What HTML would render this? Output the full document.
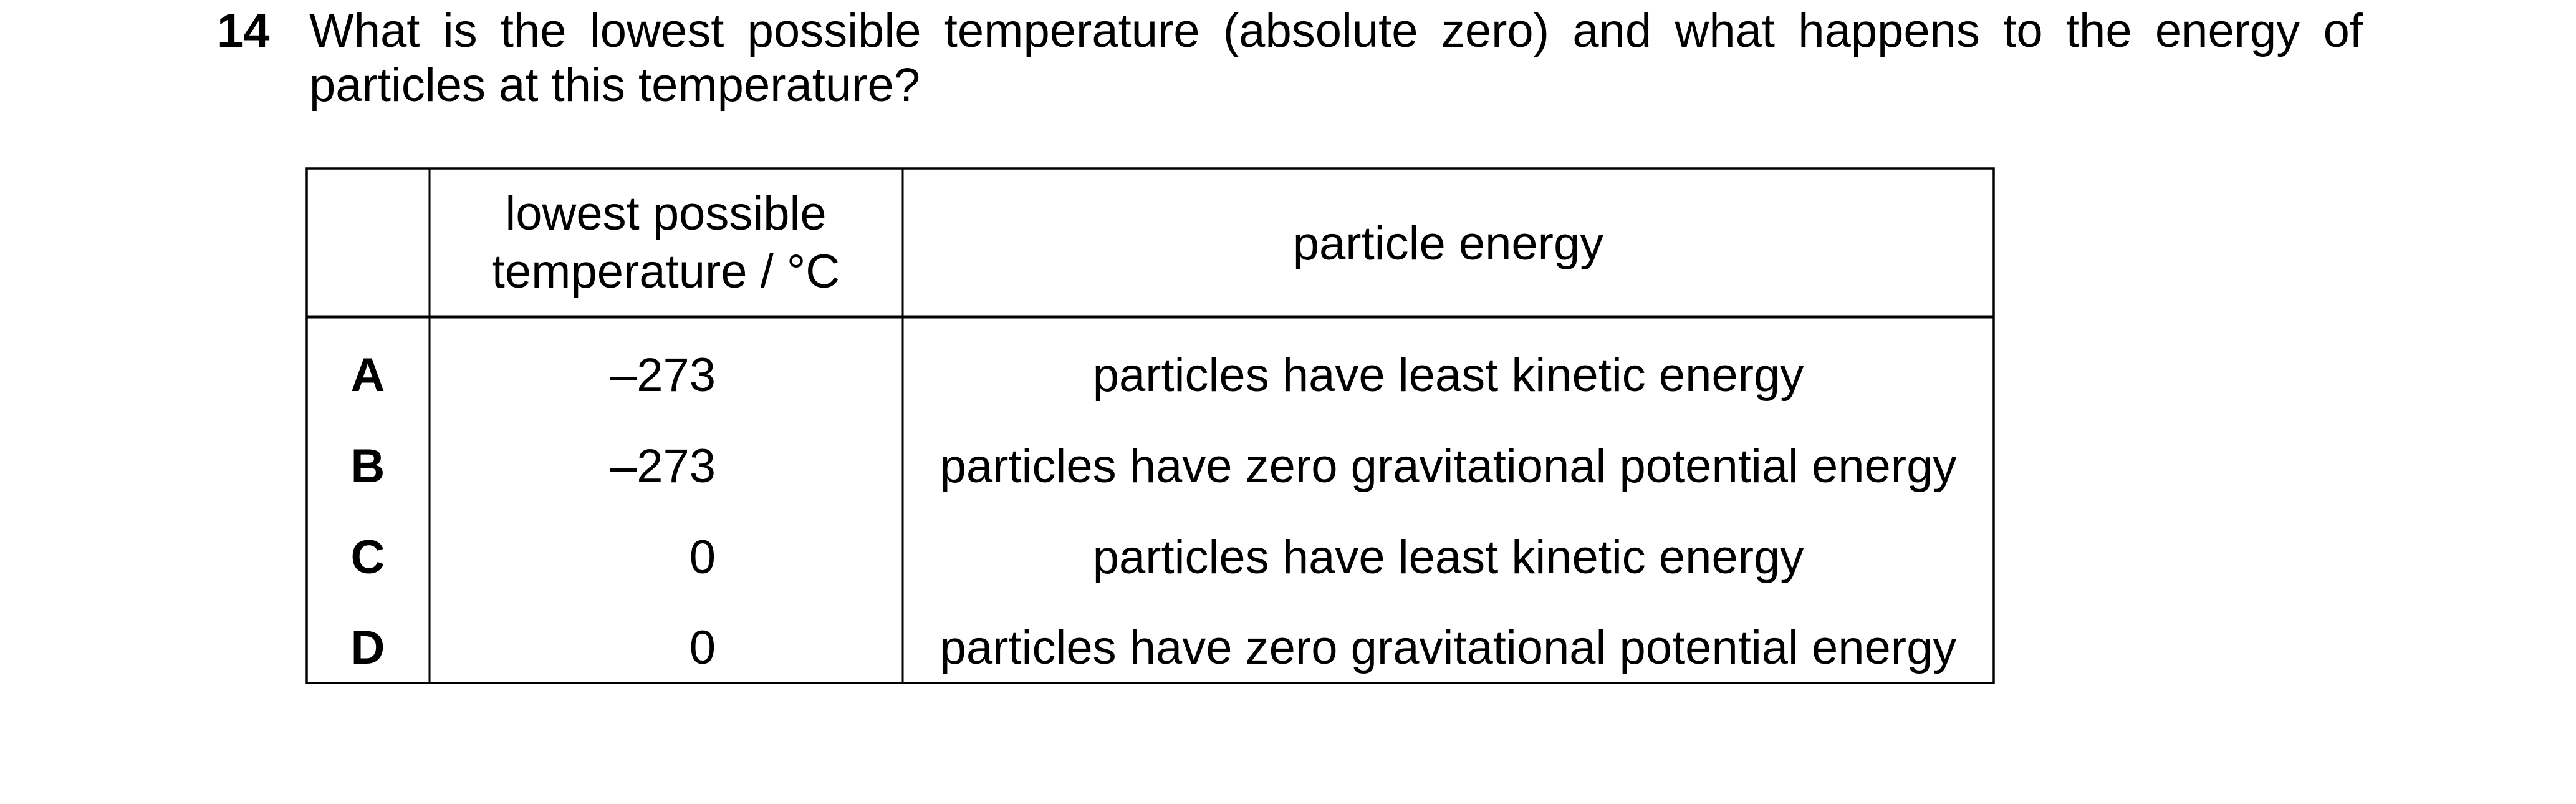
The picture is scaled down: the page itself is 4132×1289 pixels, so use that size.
<!DOCTYPE html>
<html><head><meta charset="utf-8"><style>
html,body{margin:0;padding:0;background:#fff;}
svg{display:block;position:absolute;left:0;top:0;}
text{font-family:"Liberation Sans",Arial,sans-serif;fill:#000;}
.q{position:absolute;font-family:"Liberation Sans",Arial,sans-serif;font-size:76px;line-height:87px;color:#000;}
#l1{left:496px;top:6px;width:3294px;text-align:justify;text-align-last:justify;white-space:nowrap;}
#l2{left:496px;top:93px;}
#num{left:348px;top:6px;font-weight:bold;}
</style></head><body>
<svg width="4132" height="1289" viewBox="0 0 4132 1289">
  <g stroke="#000" fill="none">
    <rect x="492" y="270" width="2706" height="825" stroke-width="3.5"/>
    <line x1="689" y1="270" x2="689" y2="1095" stroke-width="3"/>
    <line x1="1448" y1="270" x2="1448" y2="1095" stroke-width="3"/>
    <line x1="492" y1="508" x2="3198" y2="508" stroke-width="5"/>
  </g>

  <text x="1068" y="368" font-size="76" text-anchor="middle">lowest possible</text>
  <text x="1068" y="461" font-size="76" text-anchor="middle">temperature / °C</text>
  <text x="2323" y="416" font-size="76" text-anchor="middle">particle energy</text>

  <g>
    <text x="590" y="627" font-size="76" font-weight="bold" text-anchor="middle">A</text>
    <text x="1148" y="627" font-size="76" text-anchor="end">–273</text>
    <text x="2323" y="627" font-size="76" text-anchor="middle">particles have least kinetic energy</text>
  </g>
  <g>
    <text x="590" y="773" font-size="76" font-weight="bold" text-anchor="middle">B</text>
    <text x="1148" y="773" font-size="76" text-anchor="end">–273</text>
    <text x="2323" y="773" font-size="76" text-anchor="middle">particles have zero gravitational potential energy</text>
  </g>
  <g>
    <text x="590" y="919" font-size="76" font-weight="bold" text-anchor="middle">C</text>
    <text x="1148" y="919" font-size="76" text-anchor="end">0</text>
    <text x="2323" y="919" font-size="76" text-anchor="middle">particles have least kinetic energy</text>
  </g>
  <g>
    <text x="590" y="1064" font-size="76" font-weight="bold" text-anchor="middle">D</text>
    <text x="1148" y="1064" font-size="76" text-anchor="end">0</text>
    <text x="2323" y="1064" font-size="76" text-anchor="middle">particles have zero gravitational potential energy</text>
  </g>
</svg>
<div class="q" id="num">14</div>
<div class="q" id="l1">What is the lowest possible temperature (absolute zero) and what happens to the energy of</div>
<div class="q" id="l2">particles at this temperature?</div>
</body></html>
